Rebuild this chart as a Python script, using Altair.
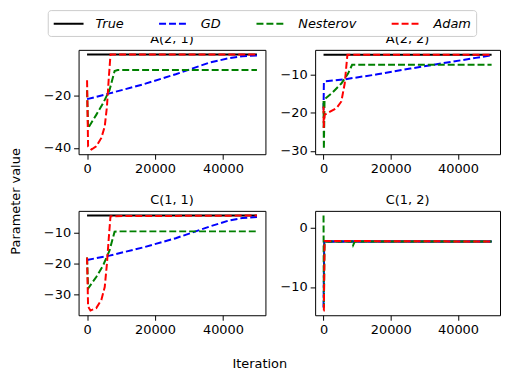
import altair as alt
import pandas as pd

METHODS = ["True", "GD", "Nesterov", "Adam"]
COLORS = ["#000000", "#0000ff", "#008000", "#ff0000"]
DASHES = [[1, 0], [7, 3], [7, 3], [7, 3]]
PANELS = ["A(2, 1)", "A(2, 2)", "C(1, 1)", "C(1, 2)"]

# ---- A(2, 1) ----
a21_true_it = [0, 50000]
a21_true_v = [-4.4, -4.4]
a21_gd_it = [0, 6600, 16400, 26100, 35900, 41700, 45700, 50000]
a21_gd_v = [-21.4, -19.2, -15.8, -11.9, -7.5, -5.8, -5.0, -4.8]
a21_nes_it = [0, 300, 2700, 4700, 6600, 8100, 9000, 50000]
a21_nes_v = [-18.0, -32.5, -27.4, -23.0, -18.0, -10.7, -10.3, -10.3]
a21_adam_it = [0, 300, 1300, 2700, 4200, 5200, 5850, 6350, 6900, 50000]
a21_adam_v = [-14.2, -39.4, -40.6, -39.4, -36.2, -31.8, -24.3, -14.2, -4.4, -4.4]

# ---- A(2, 2) ----
a22_true_it = [0, 50000]
a22_true_v = [-4.85, -4.85]
a22_gd_it = [0, 100, 500, 6300, 16000, 25800, 35500, 45300, 50000]
a22_gd_v = [-19.3, -12.2, -11.8, -11.3, -10.0, -8.5, -7.1, -5.7, -5.0]
a22_nes_it = [0, 100, 300, 2400, 5300, 7300, 8500, 50000]
a22_nes_v = [-17.0, -29.6, -16.5, -15.0, -12.4, -9.8, -7.5, -7.5]
a22_adam_it = [0, 50, 300, 1500, 3900, 5300, 6300, 7100, 50000]
a22_adam_v = [-18.4, -24.0, -20.6, -20.0, -18.8, -17.1, -12.4, -4.9, -4.85]

# ---- C(1, 1) ----
c11_true_it = [0, 50000]
c11_true_v = [-4.5, -4.5]
c11_gd_it = [0, 6600, 16400, 26100, 35900, 41700, 45700, 50000]
c11_gd_v = [-18.8, -17.4, -14.8, -11.8, -8.1, -6.1, -5.3, -5.0]
c11_nes_it = [0, 300, 2700, 4700, 6600, 8100, 9000, 50000]
c11_nes_v = [-18.0, -28.0, -24.3, -20.6, -15.8, -9.7, -9.6, -9.6]
c11_adam_it = [0, 300, 1000, 2700, 4200, 5200, 5850, 6400, 6900, 50000]
c11_adam_v = [-18.0, -33.8, -35.1, -34.3, -31.7, -27.5, -20.0, -11.6, -4.7, -4.5]

# ---- C(1, 2) ----
c12_true_it = [0, 50000]
c12_true_v = [-2.3, -2.3]
c12_gd_it = [0, 200, 50000]
c12_gd_v = [-13.5, -2.3, -2.3]
c12_nes_it = [0, 100, 300, 8500, 8800, 9300, 50000]
c12_nes_v = [2.1, -13.5, -2.3, -2.3, -2.9, -2.3, -2.3]
c12_adam_it = [0, 100, 300, 50000]
c12_adam_v = [-14.0, -14.0, -2.2, -2.3]

Y_DOMAINS = {
    "A(2, 1)": [-42.4, -2.6],
    "A(2, 2)": [-30.9, -3.6],
    "C(1, 1)": [-36.6, -3.0],
    "C(1, 2)": [-14.8, 2.9],
}
Y_TICKS = {
    "A(2, 1)": [-40, -20],
    "A(2, 2)": [-30, -20, -10],
    "C(1, 1)": [-30, -20, -10],
    "C(1, 2)": [-10, 0],
}
X_TICKS = [0, 20000, 40000]

SERIES = {
    "A(2, 1)": [(a21_true_it, a21_true_v), (a21_gd_it, a21_gd_v), (a21_nes_it, a21_nes_v), (a21_adam_it, a21_adam_v)],
    "A(2, 2)": [(a22_true_it, a22_true_v), (a22_gd_it, a22_gd_v), (a22_nes_it, a22_nes_v), (a22_adam_it, a22_adam_v)],
    "C(1, 1)": [(c11_true_it, c11_true_v), (c11_gd_it, c11_gd_v), (c11_nes_it, c11_nes_v), (c11_adam_it, c11_adam_v)],
    "C(1, 2)": [(c12_true_it, c12_true_v), (c12_gd_it, c12_gd_v), (c12_nes_it, c12_nes_v), (c12_adam_it, c12_adam_v)],
}

rows = []
for panel in PANELS:
    for k, (its, vals) in enumerate(SERIES[panel]):
        for i, v in zip(its, vals):
            rows.append({"panel": panel, "method": METHODS[k], "order": k, "iter": i, "value": v})
df = pd.DataFrame(rows)

FONT = "DejaVu Sans"
PANEL_H = 105


def panel_chart(name, width):
    sub = df[df["panel"] == name]
    return (
        alt.Chart(sub)
        .mark_line(strokeWidth=2, clip=True)
        .encode(
            x=alt.X("iter:Q",
                    scale=alt.Scale(domain=[-2500, 52500], nice=False, zero=False),
                    axis=alt.Axis(values=X_TICKS, format="d", title=None)),
            y=alt.Y("value:Q",
                    scale=alt.Scale(domain=Y_DOMAINS[name], nice=False, zero=False),
                    axis=alt.Axis(values=Y_TICKS[name], format="d", title=None)),
            color=alt.Color("method:N", scale=alt.Scale(domain=METHODS, range=COLORS),
                            legend=alt.Legend(title=None)),
            strokeDash=alt.StrokeDash("method:N", scale=alt.Scale(domain=METHODS, range=DASHES),
                                      legend=alt.Legend(title=None)),
            order=alt.Order("order:Q"),
        )
        .properties(width=width, height=PANEL_H,
                    title=alt.TitleParams(name, fontSize=13, fontWeight="normal", font=FONT,
                                          color="black", offset=4, anchor="middle"))
    )


row1 = alt.hconcat(panel_chart("A(2, 1)", 188), panel_chart("A(2, 2)", 186), spacing=13)
row2 = alt.hconcat(panel_chart("C(1, 1)", 188), panel_chart("C(1, 2)", 186), spacing=13)
grid = alt.vconcat(row1, row2, spacing=17).properties(
    title=alt.TitleParams("Iteration", orient="bottom", anchor="middle", fontSize=13,
                          fontWeight="normal", font=FONT, color="black", offset=22, dx=-12)
)
chart = (
    alt.hconcat(grid)
    .properties(
        title=alt.TitleParams("Parameter value", orient="left", anchor="middle", fontSize=13,
                              fontWeight="normal", font=FONT, color="black", offset=20, dx=-11),
        padding={"left": 2, "top": 0, "right": 0, "bottom": 0},
    )
    .configure_view(stroke="black", strokeWidth=1)
    .configure_axis(
        domain=False, grid=False, ticks=True, tickSize=5, tickWidth=1, tickColor="black",
        labelFontSize=13, labelFont=FONT, labelColor="black", labelPadding=3,
        labelFlush=False, labelOverlap=False,
    )
    .configure_legend(
        orient="none", legendX=-31, legendY=-40, direction="horizontal",
        symbolType="M-1,0H3", symbolSize=225, symbolStrokeWidth=2,
        labelFontSize=13, labelFont=FONT, labelFontStyle="italic", labelColor="black",
        labelOffset=26, columnPadding=31, strokeColor="#cccccc", fillColor="white",
        padding=5, cornerRadius=3,
    )
)

chart.save("out.html", embed_options={"renderer": "svg", "actions": False})
